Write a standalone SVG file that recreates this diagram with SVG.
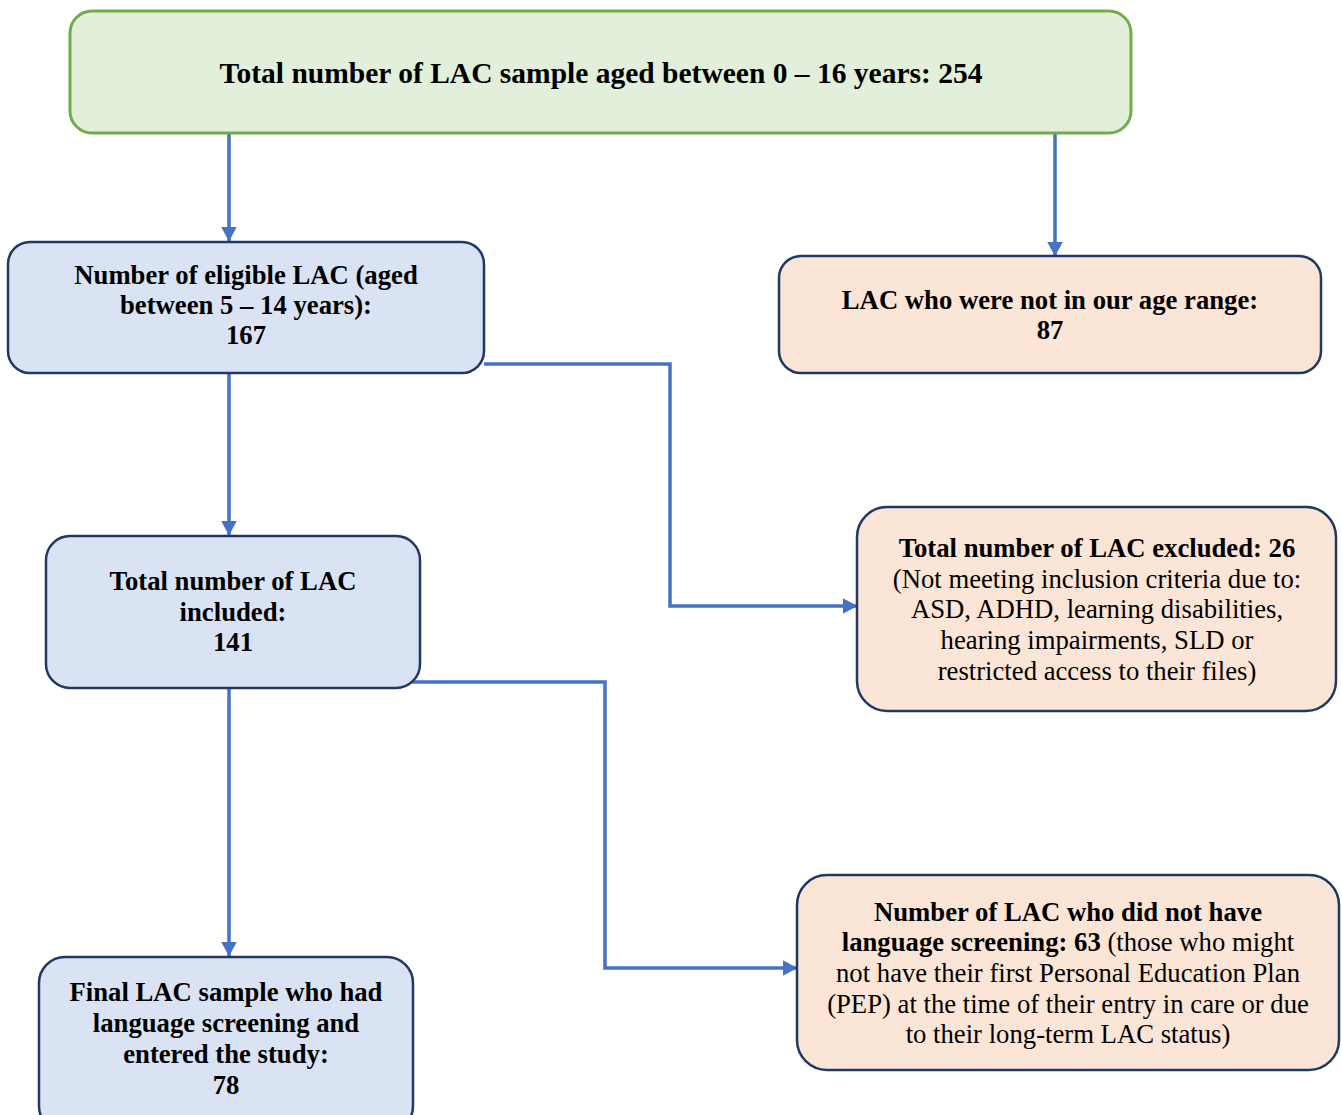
<svg xmlns="http://www.w3.org/2000/svg" width="1342" height="1115" viewBox="0 0 1342 1115">
  <defs>
    <marker id="arrow" viewBox="0 0 15 16" refX="14.5" refY="8" markerWidth="15" markerHeight="16" markerUnits="userSpaceOnUse" orient="auto">
      <path d="M0,0 L15,8 L0,16 Z" fill="#4472c4"/>
    </marker>
    <style>
      .box { stroke-width: 2.5; }
      .green { fill: #e2efda; stroke: #70ad47; stroke-width: 3; }
      .blue { fill: #dae3f3; stroke: #203864; }
      .peach { fill: #fbe5d6; stroke: #203864; }
      text { font-family: "Liberation Serif", "Times New Roman", serif; font-size: 26.7px; fill: #000; text-anchor: middle; }
      .b { font-weight: bold; }
      .big { font-size: 29.5px; }
      .link { fill: none; stroke: #4472c4; stroke-width: 3.5; marker-end: url(#arrow); }
    </style>
  </defs>
  <rect width="1342" height="1115" fill="#ffffff"/>

  <g id="connectors">
    <path class="link" d="M229,134 V241"/>
    <path class="link" d="M1055,134 V256"/>
    <path class="link" d="M484,364 H670 V606 H857"/>
    <path class="link" d="M229,374 V535"/>
    <path class="link" d="M412,682 H605 V968 H797"/>
    <path class="link" d="M229,689 V956"/>
  </g>

  <g id="total-sample">
    <rect class="box green" x="70" y="11" width="1061" height="122" rx="22"/>
    <text class="b big" x="601" y="83">Total number of LAC sample aged between 0 – 16 years: 254</text>
  </g>

  <g id="eligible">
    <rect class="box blue" x="8" y="242" width="476" height="131" rx="22"/>
    <text class="b" x="246" y="284">Number of eligible LAC (aged</text>
    <text class="b" x="246" y="314">between 5 – 14 years):</text>
    <text class="b" x="246" y="344">167</text>
  </g>

  <g id="out-of-range">
    <rect class="box peach" x="779" y="256" width="542" height="117" rx="22"/>
    <text class="b" x="1050" y="309">LAC who were not in our age range:</text>
    <text class="b" x="1050" y="339">87</text>
  </g>

  <g id="included">
    <rect class="box blue" x="46" y="536" width="374" height="152" rx="24"/>
    <text class="b" x="233" y="590">Total number of LAC</text>
    <text class="b" x="233" y="621">included:</text>
    <text class="b" x="233" y="651">141</text>
  </g>

  <g id="excluded">
    <rect class="box peach" x="857" y="507" width="479" height="204" rx="30"/>
    <text class="b" x="1097" y="557">Total number of LAC excluded: 26</text>
    <text x="1097" y="588">(Not meeting inclusion criteria due to:</text>
    <text x="1097" y="618">ASD, ADHD, learning disabilities,</text>
    <text x="1097" y="649">hearing impairments, SLD or</text>
    <text x="1097" y="680">restricted access to their files)</text>
  </g>

  <g id="no-screening">
    <rect class="box peach" x="797" y="875" width="542" height="195" rx="30"/>
    <text class="b" x="1068" y="921">Number of LAC who did not have</text>
    <text x="1068" y="951"><tspan class="b">language screening: 63</tspan> (those who might</text>
    <text x="1068" y="982">not have their first Personal Education Plan</text>
    <text x="1068" y="1013">(PEP) at the time of their entry in care or due</text>
    <text x="1068" y="1043">to their long-term LAC status)</text>
  </g>

  <g id="final-sample">
    <rect class="box blue" x="39" y="957" width="374" height="175" rx="26"/>
    <text class="b" x="226" y="1001">Final LAC sample who had</text>
    <text class="b" x="226" y="1032">language screening and</text>
    <text class="b" x="226" y="1063">entered the study:</text>
    <text class="b" x="226" y="1094">78</text>
  </g>
</svg>
